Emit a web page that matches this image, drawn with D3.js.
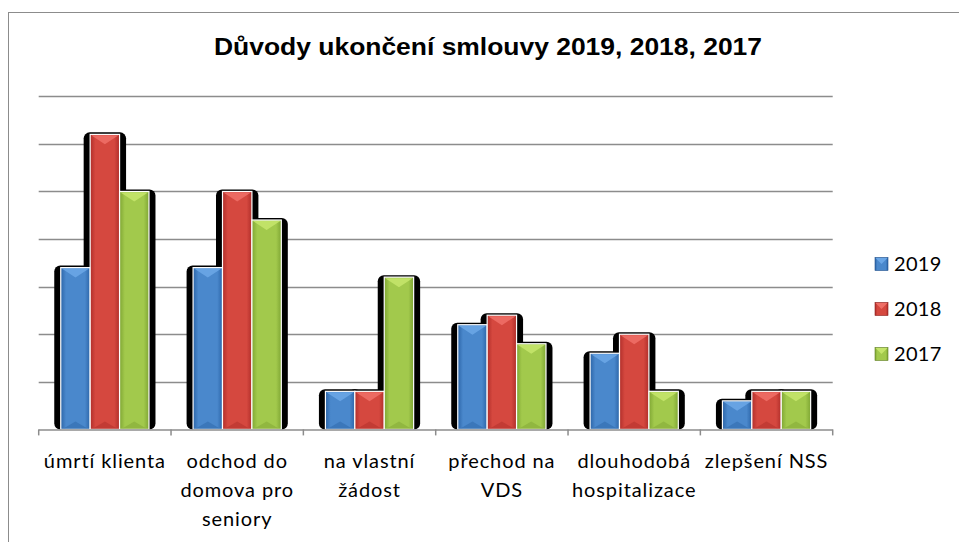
<!DOCTYPE html>
<html>
<head>
<meta charset="utf-8">
<script src="https://cdn.jsdelivr.net/npm/d3@7"></script>
<style>
  html, body { margin: 0; padding: 0; background: #fff; }
  svg { display: block; }
</style>
</head>
<body>
<svg id="chart" width="959" height="542"></svg>
<script>
const title = "Důvody ukončení smlouvy 2019, 2018, 2017";
const categories = ["úmrtí klienta", "odchod do domova pro seniory", "na vlastní žádost", "přechod na VDS", "dlouhodobá hospitalizace", "zlepšení NSS"];
const categoryLines = [["úmrtí klienta"], ["odchod do", "domova pro", "seniory"], ["na vlastní", "žádost"], ["přechod na", "VDS"], ["dlouhodobá", "hospitalizace"], ["zlepšení NSS"]];
const seriesNames = ["2019", "2018", "2017"];
const values2019 = [17, 17, 4, 11, 8, 3];
const values2018 = [31, 25, 4, 12, 10, 4];
const values2017 = [25, 22, 16, 9, 4, 4];
const yTicks = [0, 5, 10, 15, 20, 25, 30, 35];

const seriesValues = [values2019, values2018, values2017];
const colors = {
  "2019": { mid: "#4a88cc", edge: "#2c65a8", top: "#6aa6e6", dark: "#1f4f8a" },
  "2018": { mid: "#d5483f", edge: "#b02e2a", top: "#ee6e66", dark: "#8a1f1c" },
  "2017": { mid: "#a2c94c", edge: "#7fa634", top: "#c4e46a", dark: "#5f7e22" }
};

const svg = d3.select("#chart");
const defs = svg.append("defs");
seriesNames.forEach(s => {
  const g = defs.append("linearGradient").attr("id", "grad" + s).attr("x1", 0).attr("x2", 1).attr("y1", 0).attr("y2", 0);
  g.append("stop").attr("offset", 0).attr("stop-color", colors[s].edge);
  g.append("stop").attr("offset", 0.18).attr("stop-color", colors[s].mid);
  g.append("stop").attr("offset", 0.82).attr("stop-color", colors[s].mid);
  g.append("stop").attr("offset", 1).attr("stop-color", colors[s].edge);
});
const blur = defs.append("filter").attr("id", "shblur").attr("x", "-50%").attr("y", "-50%").attr("width", "200%").attr("height", "200%");
blur.append("feGaussianBlur").attr("stdDeviation", 0.6);

// outer border
svg.append("rect").attr("x", 8.5).attr("y", 12.5).attr("width", 960).attr("height", 540)
  .attr("fill", "none").attr("stroke", "#8c8c8c").attr("stroke-width", 1);

// title
svg.append("text").attr("transform", "translate(488,55) scale(1.15,1)").attr("text-anchor", "middle")
  .attr("font-family", "'Liberation Sans', Arial, sans-serif").attr("font-weight", "bold")
  .attr("font-size", 23).attr("fill", "#000").text(title);

const plotLeft = 38.7, plotRight = 832.7, plotTop = 96.3, plotBottom = 429.4;
const x0 = d3.scaleBand().domain(categories).range([plotLeft, plotRight]).paddingInner(0).paddingOuter(0);
const x1 = d3.scaleBand().domain(seriesNames).range([0, x0.bandwidth()]).paddingInner(0).paddingOuter(0.75);
const y = d3.scaleLinear().domain([0, 35]).range([plotBottom, plotTop]);

// gridlines
svg.append("g").selectAll("line").data(yTicks.filter(t => t > 0)).join("line")
  .attr("x1", plotLeft).attr("x2", plotRight)
  .attr("y1", d => Math.round(y(d)) + 0.5).attr("y2", d => Math.round(y(d)) + 0.5)
  .attr("stroke", "#8c8c8c").attr("stroke-width", 1.5);

const data = [];
categories.forEach((c, i) => seriesNames.forEach((s, j) => data.push({ c, s, v: seriesValues[j][i] })));

// shadows
svg.append("g").attr("filter", "url(#shblur)").selectAll("rect").data(data).join("rect")
  .attr("x", d => x0(d.c) + x1(d.s) - 6.5)
  .attr("y", d => y(d.v) - 2)
  .attr("width", x1.bandwidth() + 13)
  .attr("height", d => plotBottom - y(d.v) + 2)
  .attr("rx", 6).attr("ry", 6)
  .attr("fill", "#000");

// bars
const bars = svg.append("g").selectAll("g").data(data).join("g")
  .attr("transform", d => `translate(${x0(d.c) + x1(d.s)},${y(d.v)})`);
const bw = x1.bandwidth();
bars.append("rect").attr("x", 0).attr("y", 0).attr("width", bw).attr("height", d => plotBottom - y(d.v))
  .attr("fill", d => `url(#grad${d.s})`);
// top bevel triangle
bars.append("path")
  .attr("d", d => { const h = Math.min(10, (plotBottom - y(d.v)) / 2); return `M1,1 L${bw - 1},1 L${bw / 2},${h} Z`; })
  .attr("fill", d => colors[d.s].top).attr("opacity", 0.9);
// bottom bevel subtle
bars.append("path")
  .attr("d", d => { const H = plotBottom - y(d.v); const h = Math.min(8, H / 3); return `M1,${H} L${bw - 1},${H} L${bw / 2},${H - h} Z`; })
  .attr("fill", d => colors[d.s].edge).attr("opacity", 0.5);
bars.append("rect").attr("x", 0).attr("y", 0).attr("width", bw).attr("height", d => plotBottom - y(d.v))
  .attr("fill", "none").attr("stroke", "#fff").attr("stroke-width", 1.2);

// axis baseline and ticks
const axisG = svg.append("g");
axisG.append("line").attr("x1", plotLeft).attr("x2", plotRight).attr("y1", plotBottom + 0.5).attr("y2", plotBottom + 0.5)
  .attr("stroke", "#8c8c8c").attr("stroke-width", 1.5);
const tickXs = categories.map(c => x0(c)).concat([plotRight]);
axisG.selectAll("line.tick").data(tickXs).join("line").attr("class", "tick")
  .attr("x1", d => d).attr("x2", d => d).attr("y1", plotBottom).attr("y2", plotBottom + 6)
  .attr("stroke", "#8c8c8c").attr("stroke-width", 1.5);

// category labels
const labG = svg.append("g").attr("font-family", "Lato, 'Open Sans', sans-serif").attr("font-size", 20)
  .attr("letter-spacing", 0.9).attr("fill", "#000");
categories.forEach((c, i) => {
  const cx = x0(c) + x0.bandwidth() / 2;
  const t = labG.append("text").attr("x", cx).attr("y", 468).attr("text-anchor", "middle");
  categoryLines[i].forEach((ln, k) => t.append("tspan").attr("x", cx).attr("dy", k === 0 ? 0 : 29).text(ln));
});

// legend
const legY = d3.scalePoint().domain(seriesNames).range([264, 354]);
const leg = svg.append("g").selectAll("g").data(seriesNames).join("g")
  .attr("transform", d => `translate(875,${legY(d)})`);
leg.append("rect").attr("x", 0).attr("y", -6.5).attr("width", 13).attr("height", 13).attr("fill", d => `url(#grad${d})`);
leg.append("path").attr("d", "M0.5,-6 L12.5,-6 L6.5,0 Z").attr("fill", d => colors[d].top);
leg.append("rect").attr("x", 0).attr("y", -6.5).attr("width", 13).attr("height", 13).attr("fill", "none").attr("stroke", d => colors[d].dark).attr("stroke-width", 0.6);
leg.append("text").attr("x", 19).attr("y", 0).attr("dy", "0.35em")
  .attr("font-family", "Lato, 'Open Sans', sans-serif").attr("font-size", 20).attr("letter-spacing", 0.3)
  .attr("fill", "#000").text(d => d);
</script>
</body>
</html>
